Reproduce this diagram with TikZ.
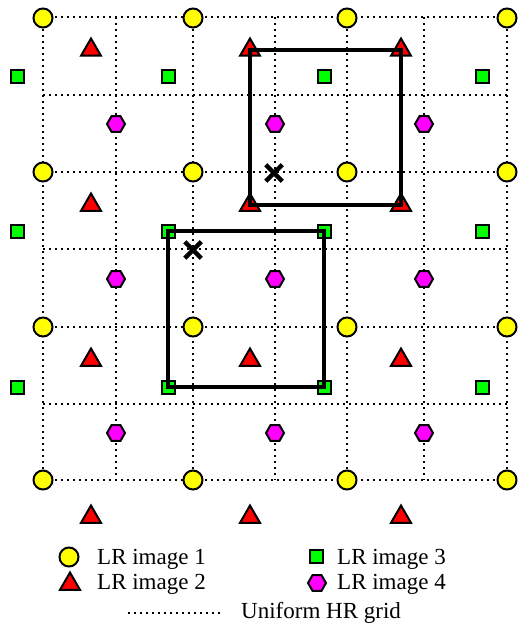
\documentclass[tikz,border=0pt]{standalone}
\usepackage{fontspec}
\setmainfont{Liberation Serif}
\usetikzlibrary{shapes.geometric,shapes.misc}
\definecolor{lrYellow}{RGB}{255,255,0}
\definecolor{lrRed}{RGB}{255,0,0}
\definecolor{lrGreen}{RGB}{0,255,0}
\definecolor{lrMagenta}{RGB}{255,0,255}
\begin{document}
\begin{tikzpicture}[x=1pt,y=-1pt,
 hrgrid/.style={line width=2.3pt, dash pattern=on 2.3pt off 3.7pt},
 mk/.style={draw=black, line width=2pt, inner sep=0pt, outer sep=0pt},
 lrone/.style={mk, circle, fill=lrYellow, minimum size=19pt},
 lrtwo/.style={mk, regular polygon, regular polygon sides=3, fill=lrRed, minimum size=23pt},
 lrthree/.style={mk, rectangle, fill=lrGreen, minimum size=13pt},
 lrfour/.style={mk, regular polygon, regular polygon sides=6, fill=lrMagenta, minimum size=18pt},
 boxline/.style={line width=3.4pt, line join=miter},
 crossmark/.style={cross out, draw=black, line width=4.5pt, minimum size=12pt, inner sep=0pt},
 legtext/.style={anchor=base west, inner sep=0pt, font=\fontsize{23}{27}\selectfont}]
\path[use as bounding box, fill=white] (0,0) rectangle (519,623);
% HR grid
\foreach \x in {43,116,193,275,347,424,507} \draw[hrgrid] (\x,17) -- (\x,480);
\foreach \y in {17,95,172,249,327,404,480} \draw[hrgrid] (43,\y) -- (507,\y);
% LR image 1
\foreach \x [count=\i] in {43,193,347,507}
  \foreach \y [count=\j] in {18,172,327,480}
    \node[lrone] (a\i\j) at (\x,\y) {};
% LR image 2
\foreach \x [count=\i] in {91,250,401}
  \foreach \y [count=\j] in {50,205,360,517}
    \node[lrtwo] (b\i\j) at (\x,\y) {};
% LR image 3
\foreach \x [count=\i] in {17,168,324,482}
  \foreach \y [count=\j] in {77,231,387}
    \node[lrthree] (c\i\j) at (\x,\y) {};
% LR image 4
\foreach \x [count=\i] in {116,275,424}
  \foreach \y [count=\j] in {124,279,433}
    \node[lrfour] (d\i\j) at (\x,\y) {};
% boxes
\draw[boxline] (b21.center) -- (b31.center) -- (b32.center) -- (b22.center) -- cycle;
\draw[boxline] (c22.center) -- (c32.center) -- (c33.center) -- (c23.center) -- cycle;
% crosses
\node[crossmark] (x1) at (274,173) {};
\node[crossmark] (x2) at (193,250) {};
% legend
\node[lrone] (l1) at (69,557) {};
\node[legtext] (t1) at (97,564) {LR image 1};
\node[lrtwo] (l2) at (70,584) {};
\node[legtext] (t2) at (97,589) {LR image 2};
\node[lrthree] (l3) at (316,556) {};
\node[legtext] (t3) at (337,564) {LR image 3};
\node[lrfour] (l4) at (317,583) {};
\node[legtext] (t4) at (337,589) {LR image 4};
\coordinate (g1) at (128,613);
\coordinate (g2) at (221,613);
\draw[hrgrid] (g1) -- (g2);
\node[legtext] (t5) at (241,618.5) {Uniform HR grid};
\end{tikzpicture}
\end{document}
